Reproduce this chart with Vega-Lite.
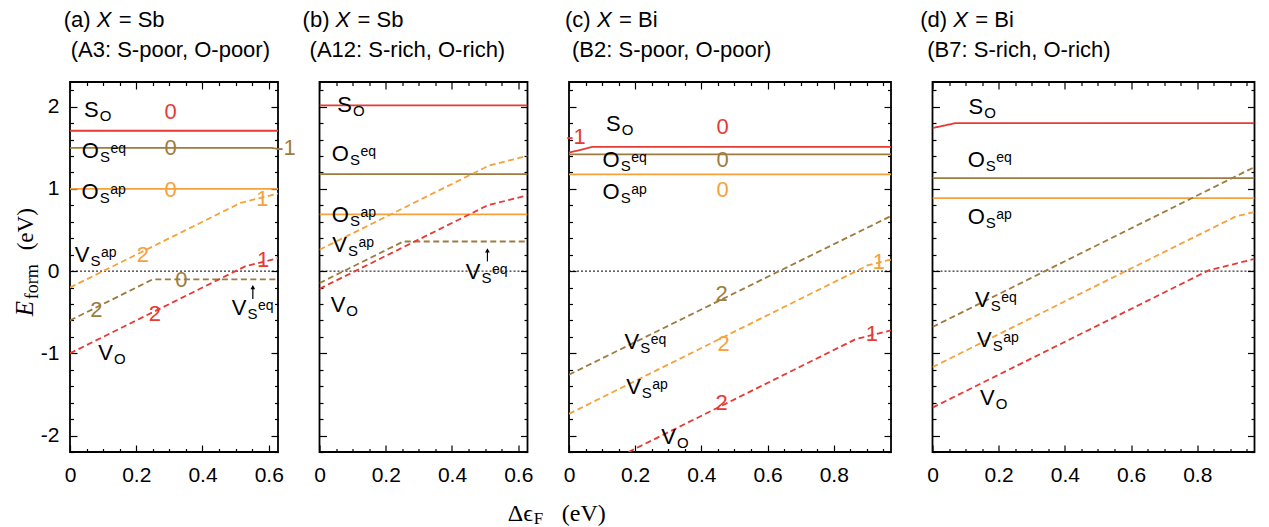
{
"$schema":"https://vega.github.io/schema/vega-lite/v6.json",
"background":"white",
"autosize":{"type":"pad"},
"padding":{"left":11,"top":8,"right":0,"bottom":0},
"config":{"view":{"stroke":"black","strokeWidth":1.8},"text":{"font":"Liberation Sans"},
 "axis":{"labelFont":"Liberation Sans","labelFontSize":21,"labelColor":"black","tickColor":"black","tickWidth":1.2,"grid":false,"domain":false,"labelFlush":false,"labelOverlap":false,"labelBound":false,"title":null}},
"datasets":{
"lines":[
{"panel":"a","series":"S_O","x":0,"y":1.707},{"panel":"a","series":"S_O","x":0.628,"y":1.707},
{"panel":"a","series":"O_eq","x":0,"y":1.5},{"panel":"a","series":"O_eq","x":0.61,"y":1.5},{"panel":"a","series":"O_eq","x":0.628,"y":1.482},
{"panel":"a","series":"O_ap","x":0,"y":1.0},{"panel":"a","series":"O_ap","x":0.628,"y":1.0},
{"panel":"a","series":"V_ap","x":0,"y":-0.2},{"panel":"a","series":"V_ap","x":0.515,"y":0.83},{"panel":"a","series":"V_ap","x":0.628,"y":0.943},
{"panel":"a","series":"V_eq","x":0,"y":-0.6},{"panel":"a","series":"V_eq","x":0.25,"y":-0.1},{"panel":"a","series":"V_eq","x":0.628,"y":-0.1},
{"panel":"a","series":"V_O","x":0,"y":-1.0},{"panel":"a","series":"V_O","x":0.53,"y":0.06},{"panel":"a","series":"V_O","x":0.628,"y":0.158},
{"panel":"b","series":"S_O","x":0,"y":2.016},{"panel":"b","series":"S_O","x":0.628,"y":2.016},
{"panel":"b","series":"O_eq","x":0,"y":1.18},{"panel":"b","series":"O_eq","x":0.628,"y":1.18},
{"panel":"b","series":"O_ap","x":0,"y":0.69},{"panel":"b","series":"O_ap","x":0.628,"y":0.69},
{"panel":"b","series":"V_ap","x":0,"y":0.26},{"panel":"b","series":"V_ap","x":0.513,"y":1.286},{"panel":"b","series":"V_ap","x":0.628,"y":1.401},
{"panel":"b","series":"V_eq","x":0,"y":-0.146},{"panel":"b","series":"V_eq","x":0.253,"y":0.36},{"panel":"b","series":"V_eq","x":0.628,"y":0.36},
{"panel":"b","series":"V_O","x":0,"y":-0.215},{"panel":"b","series":"V_O","x":0.508,"y":0.801},{"panel":"b","series":"V_O","x":0.628,"y":0.921},
{"panel":"c","series":"S_O","x":0,"y":1.44},{"panel":"c","series":"S_O","x":0.069,"y":1.51},{"panel":"c","series":"S_O","x":0.973,"y":1.51},
{"panel":"c","series":"O_eq","x":0,"y":1.42},{"panel":"c","series":"O_eq","x":0.973,"y":1.42},
{"panel":"c","series":"O_ap","x":0,"y":1.176},{"panel":"c","series":"O_ap","x":0.973,"y":1.176},
{"panel":"c","series":"V_eq","x":0,"y":-1.26},{"panel":"c","series":"V_eq","x":0.973,"y":0.67},
{"panel":"c","series":"V_ap","x":0,"y":-1.736},{"panel":"c","series":"V_ap","x":0.904,"y":0.072},{"panel":"c","series":"V_ap","x":0.973,"y":0.141},
{"panel":"c","series":"V_O","x":0,"y":-2.56},{"panel":"c","series":"V_O","x":0.866,"y":-0.828},{"panel":"c","series":"V_O","x":0.973,"y":-0.721},
{"panel":"d","series":"S_O","x":0,"y":1.74},{"panel":"d","series":"S_O","x":0.07,"y":1.8},{"panel":"d","series":"S_O","x":0.973,"y":1.8},
{"panel":"d","series":"O_eq","x":0,"y":1.13},{"panel":"d","series":"O_eq","x":0.973,"y":1.13},
{"panel":"d","series":"O_ap","x":0,"y":0.888},{"panel":"d","series":"O_ap","x":0.973,"y":0.888},
{"panel":"d","series":"V_eq","x":0,"y":-0.68},{"panel":"d","series":"V_eq","x":0.973,"y":1.266},
{"panel":"d","series":"V_ap","x":0,"y":-1.168},{"panel":"d","series":"V_ap","x":0.915,"y":0.662},{"panel":"d","series":"V_ap","x":0.973,"y":0.72},
{"panel":"d","series":"V_O","x":0,"y":-1.66},{"panel":"d","series":"V_O","x":0.835,"y":0.01},{"panel":"d","series":"V_O","x":0.973,"y":0.148}
],
"charges":[
{"panel":"a","series":"S_O","t":"0","x":0.304,"y":1.934},
{"panel":"a","series":"O_eq","t":"0","x":0.304,"y":1.496},
{"panel":"a","series":"O_ap","t":"0","x":0.304,"y":0.985},
{"panel":"a","series":"O_eq","t":"-1","x":0.652,"y":1.5},
{"panel":"a","series":"V_ap","t":"1","x":0.581,"y":0.876},
{"panel":"a","series":"V_ap","t":"2","x":0.22,"y":0.2},
{"panel":"a","series":"V_eq","t":"0","x":0.336,"y":-0.113},
{"panel":"a","series":"V_eq","t":"2","x":0.08,"y":-0.468},
{"panel":"a","series":"V_O","t":"2","x":0.256,"y":-0.52},
{"panel":"a","series":"V_O","t":"1","x":0.583,"y":0.14},
{"panel":"c","series":"S_O","t":"-1","x":0.021,"y":1.634},
{"panel":"c","series":"S_O","t":"0","x":0.464,"y":1.752},
{"panel":"c","series":"O_eq","t":"0","x":0.464,"y":1.356},
{"panel":"c","series":"O_ap","t":"0","x":0.464,"y":0.982},
{"panel":"c","series":"V_eq","t":"2","x":0.461,"y":-0.276},
{"panel":"c","series":"V_ap","t":"2","x":0.467,"y":-0.884},
{"panel":"c","series":"V_ap","t":"1","x":0.936,"y":0.11},
{"panel":"c","series":"V_O","t":"2","x":0.461,"y":-1.61},
{"panel":"c","series":"V_O","t":"1","x":0.915,"y":-0.763}
],
"labels":[
{"panel":"a","main":"S","sub":"O","sup":"","x":0.0866,"y":1.873},
{"panel":"a","main":"O","sub":"S","sup":"eq","x":0.0875,"y":1.375},
{"panel":"a","main":"O","sub":"S","sup":"ap","x":0.0866,"y":0.876},
{"panel":"a","main":"V","sub":"S","sup":"ap","x":0.0588,"y":0.11},
{"panel":"a","main":"V","sub":"S","sup":"eq","x":0.533,"y":-0.535},
{"panel":"a","main":"V","sub":"O","sup":"","x":0.13,"y":-1.083},
{"panel":"b","main":"S","sub":"O","sup":"","x":0.098,"y":1.934},
{"panel":"b","main":"O","sub":"S","sup":"eq","x":0.089,"y":1.334},
{"panel":"b","main":"O","sub":"S","sup":"ap","x":0.089,"y":0.596},
{"panel":"b","main":"V","sub":"S","sup":"ap","x":0.083,"y":0.231},
{"panel":"b","main":"V","sub":"O","sup":"","x":0.078,"y":-0.499},
{"panel":"b","main":"V","sub":"S","sup":"eq","x":0.486,"y":-0.1},
{"panel":"c","main":"S","sub":"O","sup":"","x":0.156,"y":1.71},
{"panel":"c","main":"O","sub":"S","sup":"eq","x":0.153,"y":1.265},
{"panel":"c","main":"O","sub":"S","sup":"ap","x":0.153,"y":0.876},
{"panel":"c","main":"V","sub":"S","sup":"eq","x":0.212,"y":-0.945},
{"panel":"c","main":"V","sub":"S","sup":"ap","x":0.217,"y":-1.49},
{"panel":"c","main":"V","sub":"O","sup":"","x":0.323,"y":-2.1},
{"panel":"d","main":"S","sub":"O","sup":"","x":0.1535,"y":1.914},
{"panel":"d","main":"O","sub":"S","sup":"eq","x":0.158,"y":1.265},
{"panel":"d","main":"O","sub":"S","sup":"ap","x":0.158,"y":0.575},
{"panel":"d","main":"V","sub":"S","sup":"eq","x":0.173,"y":-0.438},
{"panel":"d","main":"V","sub":"S","sup":"ap","x":0.179,"y":-0.925},
{"panel":"d","main":"V","sub":"O","sup":"","x":0.188,"y":-1.634}
],
"arrows":[
{"panel":"a","x":0.552,"y":-0.34,"y2":-0.195},
{"panel":"b","x":0.507,"y":0.118,"y2":0.252}
],
"titles":[
{"panel":"a","x":-0.019,"pre":"(a)","v":"X","post":"= Sb","cond":"(A3: S-poor, O-poor)"},
{"panel":"b","x":-0.051,"pre":"(b)","v":"X","post":"= Sb","cond":"(A12: S-rich, O-rich)"},
{"panel":"c","x":-0.012,"pre":"(c)","v":"X","post":"= Bi","cond":"(B2: S-poor, O-poor)"},
{"panel":"d","x":-0.037,"pre":"(d)","v":"X","post":"= Bi","cond":"(B7: S-rich, O-rich)"}
],
"axtitles":[
{"axis":"y","part":"main","t":"E"},{"axis":"y","part":"sub","t":"form"},{"axis":"y","part":"unit","t":"(eV)"},
{"axis":"x","part":"main","t":"Δϵ"},{"axis":"x","part":"sub","t":"F"},{"axis":"x","part":"unit","t":"(eV)"}
]
},
"bounds":"flush",
"spacing":41.5,
"hconcat":[
{"width":208,"height":370,"resolve":{"axis":{"x":"independent","y":"independent"}},"layer":[
 {"layer":[
  {"data":{"values":[{}]},"mark":{"type":"rule","strokeDash":[2,2],"color":"black","strokeWidth":1},"encoding":{"y":{"datum":0,"type":"quantitative"}}},
  {"data":{"name":"lines"},"transform":[{"filter":"datum.panel=='a'"}],"mark":{"type":"line","strokeWidth":1.8,"clip":true},
   "encoding":{
    "x":{"field":"x","type":"quantitative","scale":{"domain":[0,0.628],"nice":false,"zero":false},"axis":{"orient":"bottom","values":[0,0.2,0.4,0.6],"labelExpr":"format(datum.value, '~g')","tickSize":-7,"labelPadding":19}},
    "y":{"field":"y","type":"quantitative","scale":{"domain":[-2.2,2.3],"nice":false,"zero":false},"axis":{"orient":"left","values":[-2,-1,0,1,2],"labelExpr":"toString(datum.value)","tickSize":-7,"labelPadding":18}},
    "detail":{"field":"series"},
    "color":{"field":"series","type":"nominal","scale":{"domain":["S_O","O_eq","O_ap","V_O","V_eq","V_ap"],"range":["#e63a35","#9e7b3e","#f5a13c","#e63a35","#9e7b3e","#f5a13c"]},"legend":null},
    "strokeDash":{"field":"series","type":"nominal","scale":{"domain":["S_O","O_eq","O_ap","V_O","V_eq","V_ap"],"range":[[1,0],[1,0],[1,0],[6,3.5],[6,3.5],[6,3.5]]},"legend":null}}},
  {"data":{"name":"charges"},"transform":[{"filter":"datum.panel=='a'"}],"mark":{"type":"text","fontSize":22,"align":"center","baseline":"middle"},
   "encoding":{"x":{"field":"x","type":"quantitative"},"y":{"field":"y","type":"quantitative"},"text":{"field":"t"},"color":{"field":"series","type":"nominal","scale":{"domain":["S_O","O_eq","O_ap","V_O","V_eq","V_ap"],"range":["#e63a35","#9e7b3e","#f5a13c","#e63a35","#9e7b3e","#f5a13c"]},"legend":null}}},
  {"data":{"name":"labels"},"transform":[{"filter":"datum.panel=='a'"}],"mark":{"type":"text","fontSize":22,"align":"right","baseline":"alphabetic","color":"black"},"encoding":{"x":{"field":"x","type":"quantitative"},"y":{"field":"y","type":"quantitative"},"text":{"field":"main"}}},
  {"data":{"name":"labels"},"transform":[{"filter":"datum.panel=='a'"}],"mark":{"type":"text","fontSize":15,"align":"left","baseline":"alphabetic","dx":1,"dy":4,"color":"black"},"encoding":{"x":{"field":"x","type":"quantitative"},"y":{"field":"y","type":"quantitative"},"text":{"field":"sub"}}},
  {"data":{"name":"labels"},"transform":[{"filter":"datum.panel=='a'"}],"mark":{"type":"text","fontSize":14,"align":"left","baseline":"alphabetic","dx":11.5,"dy":-5,"color":"black"},"encoding":{"x":{"field":"x","type":"quantitative"},"y":{"field":"y","type":"quantitative"},"text":{"field":"sup"}}},
  {"data":{"name":"arrows"},"transform":[{"filter":"datum.panel=='a'"}],"mark":{"type":"rule","color":"black","strokeWidth":1.2},"encoding":{"x":{"field":"x","type":"quantitative"},"y":{"field":"y","type":"quantitative"},"y2":{"field":"y2"}}},
  {"data":{"name":"arrows"},"transform":[{"filter":"datum.panel=='a'"}],"mark":{"type":"point","shape":"triangle-up","filled":true,"color":"black","size":22,"opacity":1},"encoding":{"x":{"field":"x","type":"quantitative"},"y":{"field":"y2","type":"quantitative"}}},
  {"data":{"name":"titles"},"transform":[{"filter":"datum.panel=='a'"}],"mark":{"type":"text","fontSize":22,"align":"left","baseline":"alphabetic","color":"black"},"encoding":{"x":{"field":"x","type":"quantitative"},"y":{"datum":2.968,"type":"quantitative"},"text":{"field":"pre"}}},
  {"data":{"name":"titles"},"transform":[{"filter":"datum.panel=='a'"}],"mark":{"type":"text","fontSize":22,"align":"left","baseline":"alphabetic","fontStyle":"italic","dx":33,"color":"black"},"encoding":{"x":{"field":"x","type":"quantitative"},"y":{"datum":2.968,"type":"quantitative"},"text":{"field":"v"}}},
  {"data":{"name":"titles"},"transform":[{"filter":"datum.panel=='a'"}],"mark":{"type":"text","fontSize":22,"align":"left","baseline":"alphabetic","dx":55,"color":"black"},"encoding":{"x":{"field":"x","type":"quantitative"},"y":{"datum":2.968,"type":"quantitative"},"text":{"field":"post"}}},
  {"data":{"name":"titles"},"transform":[{"filter":"datum.panel=='a'"}],"mark":{"type":"text","fontSize":22,"align":"left","baseline":"alphabetic","dx":7,"color":"black"},"encoding":{"x":{"field":"x","type":"quantitative"},"y":{"datum":2.603,"type":"quantitative"},"text":{"field":"cond"}}},
  {"data":{"name":"axtitles"},"transform":[{"filter":"datum.axis=='y' && datum.part=='main'"}],"mark":{"type":"text","font":"Liberation Serif","fontStyle":"italic","fontSize":25,"angle":270,"align":"left","baseline":"alphabetic","color":"black"},"encoding":{"x":{"datum":-0.1125,"type":"quantitative"},"y":{"datum":-0.55,"type":"quantitative"},"text":{"field":"t"}}},
  {"data":{"name":"axtitles"},"transform":[{"filter":"datum.axis=='y' && datum.part=='sub'"}],"mark":{"type":"text","font":"Liberation Serif","fontSize":18,"angle":270,"align":"left","baseline":"alphabetic","dx":17,"dy":5,"color":"black"},"encoding":{"x":{"datum":-0.1125,"type":"quantitative"},"y":{"datum":-0.55,"type":"quantitative"},"text":{"field":"t"}}},
  {"data":{"name":"axtitles"},"transform":[{"filter":"datum.axis=='y' && datum.part=='unit'"}],"mark":{"type":"text","font":"Liberation Serif","fontSize":23,"angle":270,"align":"left","baseline":"alphabetic","dx":66,"color":"black"},"encoding":{"x":{"datum":-0.1125,"type":"quantitative"},"y":{"datum":-0.55,"type":"quantitative"},"text":{"field":"t"}}}
 ]},
 {"data":{"name":"lines"},"transform":[{"filter":"datum.panel=='a'"}],"mark":{"type":"point","opacity":0,"clip":true},
  "encoding":{
   "x":{"field":"x","type":"quantitative","axis":{"orient":"bottom","labels":false,"values":[0.05,0.1,0.15,0.25,0.3,0.35,0.45,0.5,0.55],"tickSize":-3.5}},
   "y":{"field":"y","type":"quantitative","axis":{"orient":"left","labels":false,"values":[-2.2,-1.8,-1.6,-1.4,-1.2,-0.8,-0.6,-0.4,-0.2,0.2,0.4,0.6,0.8,1.2,1.4,1.6,1.8,2.2],"tickSize":-3.5}}}},
 {"data":{"name":"lines"},"transform":[{"filter":"datum.panel=='a'"}],"mark":{"type":"point","opacity":0,"clip":true},
  "encoding":{
   "x":{"field":"x","type":"quantitative","axis":{"orient":"top","labels":false,"values":[0,0.2,0.4,0.6],"tickSize":-7}},
   "y":{"field":"y","type":"quantitative","axis":{"orient":"right","labels":false,"values":[-2,-1,0,1,2],"tickSize":-7}}}},
 {"data":{"name":"lines"},"transform":[{"filter":"datum.panel=='a'"}],"mark":{"type":"point","opacity":0,"clip":true},
  "encoding":{
   "x":{"field":"x","type":"quantitative","axis":{"orient":"top","labels":false,"values":[0.05,0.1,0.15,0.25,0.3,0.35,0.45,0.5,0.55],"tickSize":-3.5}},
   "y":{"field":"y","type":"quantitative","axis":{"orient":"right","labels":false,"values":[-2.2,-1.8,-1.6,-1.4,-1.2,-0.8,-0.6,-0.4,-0.2,0.2,0.4,0.6,0.8,1.2,1.4,1.6,1.8,2.2],"tickSize":-3.5}}}}
]},
{"width":208,"height":370,"resolve":{"axis":{"x":"independent","y":"independent"}},"layer":[
 {"layer":[
  {"data":{"values":[{}]},"mark":{"type":"rule","strokeDash":[2,2],"color":"black","strokeWidth":1},"encoding":{"y":{"datum":0,"type":"quantitative"}}},
  {"data":{"name":"lines"},"transform":[{"filter":"datum.panel=='b'"}],"mark":{"type":"line","strokeWidth":1.8,"clip":true},
   "encoding":{
    "x":{"field":"x","type":"quantitative","scale":{"domain":[0,0.628],"nice":false,"zero":false},"axis":{"orient":"bottom","values":[0,0.2,0.4,0.6],"labelExpr":"format(datum.value, '~g')","tickSize":-7,"labelPadding":19}},
    "y":{"field":"y","type":"quantitative","scale":{"domain":[-2.2,2.3],"nice":false,"zero":false},"axis":{"orient":"left","labels":false,"values":[-2,-1,0,1,2],"tickSize":-7}},
    "detail":{"field":"series"},
    "color":{"field":"series","type":"nominal","scale":{"domain":["S_O","O_eq","O_ap","V_O","V_eq","V_ap"],"range":["#e63a35","#9e7b3e","#f5a13c","#e63a35","#9e7b3e","#f5a13c"]},"legend":null},
    "strokeDash":{"field":"series","type":"nominal","scale":{"domain":["S_O","O_eq","O_ap","V_O","V_eq","V_ap"],"range":[[1,0],[1,0],[1,0],[6,3.5],[6,3.5],[6,3.5]]},"legend":null}}},
  {"data":{"name":"labels"},"transform":[{"filter":"datum.panel=='b'"}],"mark":{"type":"text","fontSize":22,"align":"right","baseline":"alphabetic","color":"black"},"encoding":{"x":{"field":"x","type":"quantitative"},"y":{"field":"y","type":"quantitative"},"text":{"field":"main"}}},
  {"data":{"name":"labels"},"transform":[{"filter":"datum.panel=='b'"}],"mark":{"type":"text","fontSize":15,"align":"left","baseline":"alphabetic","dx":1,"dy":4,"color":"black"},"encoding":{"x":{"field":"x","type":"quantitative"},"y":{"field":"y","type":"quantitative"},"text":{"field":"sub"}}},
  {"data":{"name":"labels"},"transform":[{"filter":"datum.panel=='b'"}],"mark":{"type":"text","fontSize":14,"align":"left","baseline":"alphabetic","dx":11.5,"dy":-5,"color":"black"},"encoding":{"x":{"field":"x","type":"quantitative"},"y":{"field":"y","type":"quantitative"},"text":{"field":"sup"}}},
  {"data":{"name":"arrows"},"transform":[{"filter":"datum.panel=='b'"}],"mark":{"type":"rule","color":"black","strokeWidth":1.2},"encoding":{"x":{"field":"x","type":"quantitative"},"y":{"field":"y","type":"quantitative"},"y2":{"field":"y2"}}},
  {"data":{"name":"arrows"},"transform":[{"filter":"datum.panel=='b'"}],"mark":{"type":"point","shape":"triangle-up","filled":true,"color":"black","size":22,"opacity":1},"encoding":{"x":{"field":"x","type":"quantitative"},"y":{"field":"y2","type":"quantitative"}}},
  {"data":{"name":"titles"},"transform":[{"filter":"datum.panel=='b'"}],"mark":{"type":"text","fontSize":22,"align":"left","baseline":"alphabetic","color":"black"},"encoding":{"x":{"field":"x","type":"quantitative"},"y":{"datum":2.968,"type":"quantitative"},"text":{"field":"pre"}}},
  {"data":{"name":"titles"},"transform":[{"filter":"datum.panel=='b'"}],"mark":{"type":"text","fontSize":22,"align":"left","baseline":"alphabetic","fontStyle":"italic","dx":33,"color":"black"},"encoding":{"x":{"field":"x","type":"quantitative"},"y":{"datum":2.968,"type":"quantitative"},"text":{"field":"v"}}},
  {"data":{"name":"titles"},"transform":[{"filter":"datum.panel=='b'"}],"mark":{"type":"text","fontSize":22,"align":"left","baseline":"alphabetic","dx":55,"color":"black"},"encoding":{"x":{"field":"x","type":"quantitative"},"y":{"datum":2.968,"type":"quantitative"},"text":{"field":"post"}}},
  {"data":{"name":"titles"},"transform":[{"filter":"datum.panel=='b'"}],"mark":{"type":"text","fontSize":22,"align":"left","baseline":"alphabetic","dx":7,"color":"black"},"encoding":{"x":{"field":"x","type":"quantitative"},"y":{"datum":2.603,"type":"quantitative"},"text":{"field":"cond"}}}
 ]},
 {"data":{"name":"lines"},"transform":[{"filter":"datum.panel=='b'"}],"mark":{"type":"point","opacity":0,"clip":true},
  "encoding":{
   "x":{"field":"x","type":"quantitative","axis":{"orient":"bottom","labels":false,"values":[0.05,0.1,0.15,0.25,0.3,0.35,0.45,0.5,0.55],"tickSize":-3.5}},
   "y":{"field":"y","type":"quantitative","axis":{"orient":"left","labels":false,"values":[-2.2,-1.8,-1.6,-1.4,-1.2,-0.8,-0.6,-0.4,-0.2,0.2,0.4,0.6,0.8,1.2,1.4,1.6,1.8,2.2],"tickSize":-3.5}}}},
 {"data":{"name":"lines"},"transform":[{"filter":"datum.panel=='b'"}],"mark":{"type":"point","opacity":0,"clip":true},
  "encoding":{
   "x":{"field":"x","type":"quantitative","axis":{"orient":"top","labels":false,"values":[0,0.2,0.4,0.6],"tickSize":-7}},
   "y":{"field":"y","type":"quantitative","axis":{"orient":"right","labels":false,"values":[-2,-1,0,1,2],"tickSize":-7}}}},
 {"data":{"name":"lines"},"transform":[{"filter":"datum.panel=='b'"}],"mark":{"type":"point","opacity":0,"clip":true},
  "encoding":{
   "x":{"field":"x","type":"quantitative","axis":{"orient":"top","labels":false,"values":[0.05,0.1,0.15,0.25,0.3,0.35,0.45,0.5,0.55],"tickSize":-3.5}},
   "y":{"field":"y","type":"quantitative","axis":{"orient":"right","labels":false,"values":[-2.2,-1.8,-1.6,-1.4,-1.2,-0.8,-0.6,-0.4,-0.2,0.2,0.4,0.6,0.8,1.2,1.4,1.6,1.8,2.2],"tickSize":-3.5}}}}
]},
{"width":322,"height":370,"resolve":{"axis":{"x":"independent","y":"independent"}},"layer":[
 {"layer":[
  {"data":{"values":[{}]},"mark":{"type":"rule","strokeDash":[2,2],"color":"black","strokeWidth":1},"encoding":{"y":{"datum":0,"type":"quantitative"}}},
  {"data":{"name":"lines"},"transform":[{"filter":"datum.panel=='c'"}],"mark":{"type":"line","strokeWidth":1.8,"clip":true},
   "encoding":{
    "x":{"field":"x","type":"quantitative","scale":{"domain":[0,0.973],"nice":false,"zero":false},"axis":{"orient":"bottom","values":[0,0.2,0.4,0.6,0.8],"labelExpr":"format(datum.value, '~g')","tickSize":-7,"labelPadding":19}},
    "y":{"field":"y","type":"quantitative","scale":{"domain":[-2.2,2.3],"nice":false,"zero":false},"axis":{"orient":"left","labels":false,"values":[-2,-1,0,1,2],"tickSize":-7}},
    "detail":{"field":"series"},
    "color":{"field":"series","type":"nominal","scale":{"domain":["S_O","O_eq","O_ap","V_O","V_eq","V_ap"],"range":["#e63a35","#9e7b3e","#f5a13c","#e63a35","#9e7b3e","#f5a13c"]},"legend":null},
    "strokeDash":{"field":"series","type":"nominal","scale":{"domain":["S_O","O_eq","O_ap","V_O","V_eq","V_ap"],"range":[[1,0],[1,0],[1,0],[6,3.5],[6,3.5],[6,3.5]]},"legend":null}}},
  {"data":{"name":"charges"},"transform":[{"filter":"datum.panel=='c'"}],"mark":{"type":"text","fontSize":22,"align":"center","baseline":"middle"},
   "encoding":{"x":{"field":"x","type":"quantitative"},"y":{"field":"y","type":"quantitative"},"text":{"field":"t"},"color":{"field":"series","type":"nominal","scale":{"domain":["S_O","O_eq","O_ap","V_O","V_eq","V_ap"],"range":["#e63a35","#9e7b3e","#f5a13c","#e63a35","#9e7b3e","#f5a13c"]},"legend":null}}},
  {"data":{"name":"labels"},"transform":[{"filter":"datum.panel=='c'"}],"mark":{"type":"text","fontSize":22,"align":"right","baseline":"alphabetic","color":"black"},"encoding":{"x":{"field":"x","type":"quantitative"},"y":{"field":"y","type":"quantitative"},"text":{"field":"main"}}},
  {"data":{"name":"labels"},"transform":[{"filter":"datum.panel=='c'"}],"mark":{"type":"text","fontSize":15,"align":"left","baseline":"alphabetic","dx":1,"dy":4,"color":"black"},"encoding":{"x":{"field":"x","type":"quantitative"},"y":{"field":"y","type":"quantitative"},"text":{"field":"sub"}}},
  {"data":{"name":"labels"},"transform":[{"filter":"datum.panel=='c'"}],"mark":{"type":"text","fontSize":14,"align":"left","baseline":"alphabetic","dx":11.5,"dy":-5,"color":"black"},"encoding":{"x":{"field":"x","type":"quantitative"},"y":{"field":"y","type":"quantitative"},"text":{"field":"sup"}}},
  {"data":{"name":"titles"},"transform":[{"filter":"datum.panel=='c'"}],"mark":{"type":"text","fontSize":22,"align":"left","baseline":"alphabetic","color":"black"},"encoding":{"x":{"field":"x","type":"quantitative"},"y":{"datum":2.968,"type":"quantitative"},"text":{"field":"pre"}}},
  {"data":{"name":"titles"},"transform":[{"filter":"datum.panel=='c'"}],"mark":{"type":"text","fontSize":22,"align":"left","baseline":"alphabetic","fontStyle":"italic","dx":32,"color":"black"},"encoding":{"x":{"field":"x","type":"quantitative"},"y":{"datum":2.968,"type":"quantitative"},"text":{"field":"v"}}},
  {"data":{"name":"titles"},"transform":[{"filter":"datum.panel=='c'"}],"mark":{"type":"text","fontSize":22,"align":"left","baseline":"alphabetic","dx":54,"color":"black"},"encoding":{"x":{"field":"x","type":"quantitative"},"y":{"datum":2.968,"type":"quantitative"},"text":{"field":"post"}}},
  {"data":{"name":"titles"},"transform":[{"filter":"datum.panel=='c'"}],"mark":{"type":"text","fontSize":22,"align":"left","baseline":"alphabetic","dx":7,"color":"black"},"encoding":{"x":{"field":"x","type":"quantitative"},"y":{"datum":2.603,"type":"quantitative"},"text":{"field":"cond"}}},
  {"data":{"name":"axtitles"},"transform":[{"filter":"datum.axis=='x' && datum.part=='main'"}],"mark":{"type":"text","font":"Liberation Serif","fontSize":24,"align":"left","baseline":"alphabetic","color":"black"},"encoding":{"x":{"datum":-0.185,"type":"quantitative"},"y":{"datum":-3.04,"type":"quantitative"},"text":{"field":"t"}}},
  {"data":{"name":"axtitles"},"transform":[{"filter":"datum.axis=='x' && datum.part=='sub'"}],"mark":{"type":"text","font":"Liberation Serif","fontSize":17,"align":"left","baseline":"alphabetic","dx":26,"dy":3,"color":"black"},"encoding":{"x":{"datum":-0.185,"type":"quantitative"},"y":{"datum":-3.04,"type":"quantitative"},"text":{"field":"t"}}},
  {"data":{"name":"axtitles"},"transform":[{"filter":"datum.axis=='x' && datum.part=='unit'"}],"mark":{"type":"text","font":"Liberation Serif","fontSize":24,"align":"left","baseline":"alphabetic","dx":54,"color":"black"},"encoding":{"x":{"datum":-0.185,"type":"quantitative"},"y":{"datum":-3.04,"type":"quantitative"},"text":{"field":"t"}}}
 ]},
 {"data":{"name":"lines"},"transform":[{"filter":"datum.panel=='c'"}],"mark":{"type":"point","opacity":0,"clip":true},
  "encoding":{
   "x":{"field":"x","type":"quantitative","axis":{"orient":"bottom","labels":false,"values":[0.05,0.1,0.15,0.25,0.3,0.35,0.45,0.5,0.55,0.65,0.7,0.75,0.85,0.9,0.95],"tickSize":-3.5}},
   "y":{"field":"y","type":"quantitative","axis":{"orient":"left","labels":false,"values":[-2.2,-1.8,-1.6,-1.4,-1.2,-0.8,-0.6,-0.4,-0.2,0.2,0.4,0.6,0.8,1.2,1.4,1.6,1.8,2.2],"tickSize":-3.5}}}},
 {"data":{"name":"lines"},"transform":[{"filter":"datum.panel=='c'"}],"mark":{"type":"point","opacity":0,"clip":true},
  "encoding":{
   "x":{"field":"x","type":"quantitative","axis":{"orient":"top","labels":false,"values":[0,0.2,0.4,0.6,0.8],"tickSize":-7}},
   "y":{"field":"y","type":"quantitative","axis":{"orient":"right","labels":false,"values":[-2,-1,0,1,2],"tickSize":-7}}}},
 {"data":{"name":"lines"},"transform":[{"filter":"datum.panel=='c'"}],"mark":{"type":"point","opacity":0,"clip":true},
  "encoding":{
   "x":{"field":"x","type":"quantitative","axis":{"orient":"top","labels":false,"values":[0.05,0.1,0.15,0.25,0.3,0.35,0.45,0.5,0.55,0.65,0.7,0.75,0.85,0.9,0.95],"tickSize":-3.5}},
   "y":{"field":"y","type":"quantitative","axis":{"orient":"right","labels":false,"values":[-2.2,-1.8,-1.6,-1.4,-1.2,-0.8,-0.6,-0.4,-0.2,0.2,0.4,0.6,0.8,1.2,1.4,1.6,1.8,2.2],"tickSize":-3.5}}}}
]},
{"width":322,"height":370,"resolve":{"axis":{"x":"independent","y":"independent"}},"layer":[
 {"layer":[
  {"data":{"values":[{}]},"mark":{"type":"rule","strokeDash":[2,2],"color":"black","strokeWidth":1},"encoding":{"y":{"datum":0,"type":"quantitative"}}},
  {"data":{"name":"lines"},"transform":[{"filter":"datum.panel=='d'"}],"mark":{"type":"line","strokeWidth":1.8,"clip":true},
   "encoding":{
    "x":{"field":"x","type":"quantitative","scale":{"domain":[0,0.973],"nice":false,"zero":false},"axis":{"orient":"bottom","values":[0,0.2,0.4,0.6,0.8],"labelExpr":"format(datum.value, '~g')","tickSize":-7,"labelPadding":19}},
    "y":{"field":"y","type":"quantitative","scale":{"domain":[-2.2,2.3],"nice":false,"zero":false},"axis":{"orient":"left","labels":false,"values":[-2,-1,0,1,2],"tickSize":-7}},
    "detail":{"field":"series"},
    "color":{"field":"series","type":"nominal","scale":{"domain":["S_O","O_eq","O_ap","V_O","V_eq","V_ap"],"range":["#e63a35","#9e7b3e","#f5a13c","#e63a35","#9e7b3e","#f5a13c"]},"legend":null},
    "strokeDash":{"field":"series","type":"nominal","scale":{"domain":["S_O","O_eq","O_ap","V_O","V_eq","V_ap"],"range":[[1,0],[1,0],[1,0],[6,3.5],[6,3.5],[6,3.5]]},"legend":null}}},
  {"data":{"name":"labels"},"transform":[{"filter":"datum.panel=='d'"}],"mark":{"type":"text","fontSize":22,"align":"right","baseline":"alphabetic","color":"black"},"encoding":{"x":{"field":"x","type":"quantitative"},"y":{"field":"y","type":"quantitative"},"text":{"field":"main"}}},
  {"data":{"name":"labels"},"transform":[{"filter":"datum.panel=='d'"}],"mark":{"type":"text","fontSize":15,"align":"left","baseline":"alphabetic","dx":1,"dy":4,"color":"black"},"encoding":{"x":{"field":"x","type":"quantitative"},"y":{"field":"y","type":"quantitative"},"text":{"field":"sub"}}},
  {"data":{"name":"labels"},"transform":[{"filter":"datum.panel=='d'"}],"mark":{"type":"text","fontSize":14,"align":"left","baseline":"alphabetic","dx":11.5,"dy":-5,"color":"black"},"encoding":{"x":{"field":"x","type":"quantitative"},"y":{"field":"y","type":"quantitative"},"text":{"field":"sup"}}},
  {"data":{"name":"titles"},"transform":[{"filter":"datum.panel=='d'"}],"mark":{"type":"text","fontSize":22,"align":"left","baseline":"alphabetic","color":"black"},"encoding":{"x":{"field":"x","type":"quantitative"},"y":{"datum":2.968,"type":"quantitative"},"text":{"field":"pre"}}},
  {"data":{"name":"titles"},"transform":[{"filter":"datum.panel=='d'"}],"mark":{"type":"text","fontSize":22,"align":"left","baseline":"alphabetic","fontStyle":"italic","dx":33,"color":"black"},"encoding":{"x":{"field":"x","type":"quantitative"},"y":{"datum":2.968,"type":"quantitative"},"text":{"field":"v"}}},
  {"data":{"name":"titles"},"transform":[{"filter":"datum.panel=='d'"}],"mark":{"type":"text","fontSize":22,"align":"left","baseline":"alphabetic","dx":55,"color":"black"},"encoding":{"x":{"field":"x","type":"quantitative"},"y":{"datum":2.968,"type":"quantitative"},"text":{"field":"post"}}},
  {"data":{"name":"titles"},"transform":[{"filter":"datum.panel=='d'"}],"mark":{"type":"text","fontSize":22,"align":"left","baseline":"alphabetic","dx":7,"color":"black"},"encoding":{"x":{"field":"x","type":"quantitative"},"y":{"datum":2.603,"type":"quantitative"},"text":{"field":"cond"}}}
 ]},
 {"data":{"name":"lines"},"transform":[{"filter":"datum.panel=='d'"}],"mark":{"type":"point","opacity":0,"clip":true},
  "encoding":{
   "x":{"field":"x","type":"quantitative","axis":{"orient":"bottom","labels":false,"values":[0.05,0.1,0.15,0.25,0.3,0.35,0.45,0.5,0.55,0.65,0.7,0.75,0.85,0.9,0.95],"tickSize":-3.5}},
   "y":{"field":"y","type":"quantitative","axis":{"orient":"left","labels":false,"values":[-2.2,-1.8,-1.6,-1.4,-1.2,-0.8,-0.6,-0.4,-0.2,0.2,0.4,0.6,0.8,1.2,1.4,1.6,1.8,2.2],"tickSize":-3.5}}}},
 {"data":{"name":"lines"},"transform":[{"filter":"datum.panel=='d'"}],"mark":{"type":"point","opacity":0,"clip":true},
  "encoding":{
   "x":{"field":"x","type":"quantitative","axis":{"orient":"top","labels":false,"values":[0,0.2,0.4,0.6,0.8],"tickSize":-7}},
   "y":{"field":"y","type":"quantitative","axis":{"orient":"right","labels":false,"values":[-2,-1,0,1,2],"tickSize":-7}}}},
 {"data":{"name":"lines"},"transform":[{"filter":"datum.panel=='d'"}],"mark":{"type":"point","opacity":0,"clip":true},
  "encoding":{
   "x":{"field":"x","type":"quantitative","axis":{"orient":"top","labels":false,"values":[0.05,0.1,0.15,0.25,0.3,0.35,0.45,0.5,0.55,0.65,0.7,0.75,0.85,0.9,0.95],"tickSize":-3.5}},
   "y":{"field":"y","type":"quantitative","axis":{"orient":"right","labels":false,"values":[-2.2,-1.8,-1.6,-1.4,-1.2,-0.8,-0.6,-0.4,-0.2,0.2,0.4,0.6,0.8,1.2,1.4,1.6,1.8,2.2],"tickSize":-3.5}}}}
]}
]
}
